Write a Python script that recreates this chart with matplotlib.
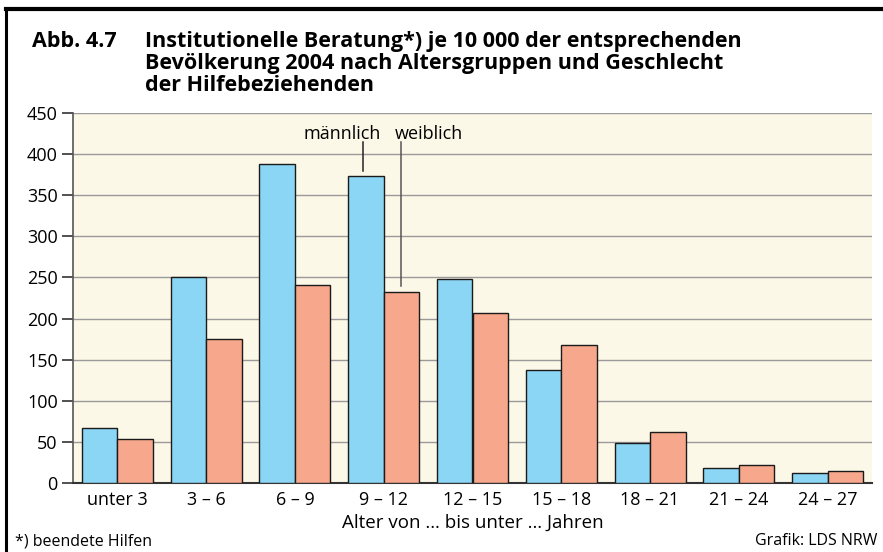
import numpy as np
import matplotlib
matplotlib.use('Agg')
import matplotlib.pyplot as plt
from matplotlib.lines import Line2D

plt.rcParams['font.family'] = ['Open Sans', 'DejaVu Sans']

# Data
age_groups = ['unter 3', '3 – 6', '6 – 9', '9 – 12', '12 – 15',
              '15 – 18', '18 – 21', '21 – 24', '24 – 27']
maennlich = [67, 250, 388, 373, 248, 137, 49, 18, 12]
weiblich = [53, 175, 241, 232, 207, 168, 62, 22, 15]
y_ticks = [0, 50, 100, 150, 200, 250, 300, 350, 400, 450]
title_lines = ['Institutionelle Beratung*) je 10 000 der entsprechenden',
               'Bevölkerung 2004 nach Altersgruppen und Geschlecht',
               'der Hilfebeziehenden']

MALE_COLOR = '#8BD6F4'
FEMALE_COLOR = '#F7A88C'
BG_COLOR = '#FCF8E8'
GRID_COLOR = '#9A9A9A'
W, H = 883, 552

fig = plt.figure(figsize=(8.83, 5.52), dpi=100)
ax = fig.add_axes([73 / W, 1 - 483 / H, 799 / W, 370 / H])
ax.set_facecolor(BG_COLOR)

x = np.arange(len(age_groups))
w = 0.4
ax.bar(x - w / 2, maennlich, width=w, color=MALE_COLOR,
       edgecolor='#1a1a1a', linewidth=1.0, zorder=3)
ax.bar(x + w / 2, weiblich, width=w, color=FEMALE_COLOR,
       edgecolor='#1a1a1a', linewidth=1.0, zorder=3)

ax.set_xlim(-0.5, len(age_groups) - 0.5)
ax.set_ylim(0, 450)
ax.set_yticks(y_ticks)
ax.set_yticklabels([str(v) for v in y_ticks], fontsize=13)
ax.set_xticks(x)
ax.set_xticklabels(age_groups, fontsize=13)
ax.tick_params(axis='x', length=0, pad=6)
ax.tick_params(axis='y', length=8, width=1.2, color='#333333', pad=3)
ax.yaxis.grid(True, color=GRID_COLOR, linewidth=1.0, zorder=0)
ax.set_axisbelow(True)
for s in ['top', 'right']:
    ax.spines[s].set_visible(False)
ax.spines['left'].set_color('#555555')
ax.spines['left'].set_linewidth(1.2)
ax.spines['bottom'].set_color('#333333')
ax.spines['bottom'].set_linewidth(1.5)
ax.set_xlabel('Alter von … bis unter … Jahren', fontsize=13.5, labelpad=3)

# labels for the 9-12 group
xm = 3 - w / 2 - 0.03
xf = 3 + w / 2
ax.plot([xm, xm], [maennlich[3] + 6, 415], color='#222222', lw=1.1, zorder=4)
ax.plot([xf, xf], [weiblich[3] + 8, 415], color='#555555', lw=1.1, zorder=4)
ax.text(xm + 0.2, 424, 'männlich', ha='right', va='center', fontsize=13, zorder=4)
ax.text(xf - 0.07, 424, 'weiblich', ha='left', va='center', fontsize=13, zorder=4)

# title
fig.text(32 / W, 1 - 46.7 / H, 'Abb. 4.7', fontsize=15.5, fontweight='bold',
         va='baseline')
for i, line in enumerate(title_lines):
    fig.text(145 / W, 1 - (46.7 + 22 * i) / H, line,
             fontsize=15.5, fontweight='bold', va='baseline')

fig.text(15 / W, 1 - 541 / H, '*) beendete Hilfen', fontsize=11.5, va='center')
fig.text(877 / W, 1 - 541 / H, 'Grafik: LDS NRW', fontsize=11.5, va='center', ha='right')

# frame
fig.add_artist(Line2D([6 / W, 882 / W], [1 - 9 / H, 1 - 9 / H],
                      color='black', lw=3.0, transform=fig.transFigure))
fig.add_artist(Line2D([6 / W, 6 / W], [1 - 9 / H, 0],
                      color='black', lw=2.2, transform=fig.transFigure))

fig.savefig('out.png', dpi=100, facecolor='white')
